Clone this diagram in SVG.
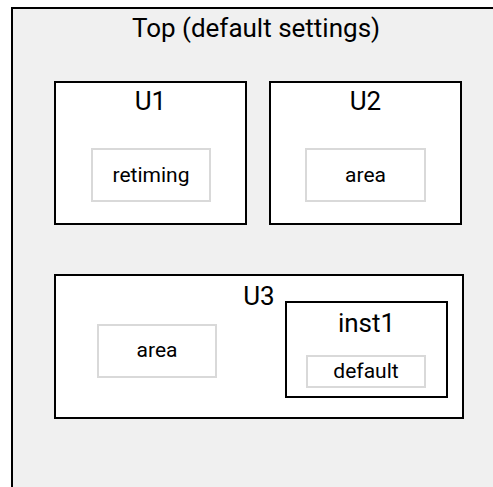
<svg xmlns="http://www.w3.org/2000/svg" width="493" height="487" viewBox="0 0 493 487">
<style>
.outer{fill:#f0f0f0;stroke:#000;stroke-width:2}
.box{fill:#fff;stroke:#000;stroke-width:2}
.leaf{fill:#fff;stroke:#d9d9d9;stroke-width:2}
text{font-family:Roboto,"Liberation Sans",sans-serif;fill:#000;text-anchor:middle}
.t1{font-size:26px}
.t2{font-size:21px}
</style>
<rect width="493" height="487" fill="#fff"/>
<g id="top">
<rect class="outer" x="12" y="8" width="500" height="500"/>
<text class="t1" x="256" y="37">Top (default settings)</text>
</g>
<g id="U1">
<rect class="box" x="55" y="82" width="191" height="142"/>
<text class="t1" x="150.5" y="110">U1</text>
</g>
<g id="U1_retiming">
<rect class="leaf" x="92" y="149" width="118" height="52"/>
<text class="t2" x="151" y="182">retiming</text>
</g>
<g id="U2">
<rect class="box" x="270" y="82" width="191" height="142"/>
<text class="t1" x="365.5" y="110">U2</text>
</g>
<g id="U2_area">
<rect class="leaf" x="306" y="149" width="119" height="52"/>
<text class="t2" x="365.5" y="182">area</text>
</g>
<g id="U3">
<rect class="box" x="55" y="275" width="408" height="143"/>
<text class="t1" x="259" y="305">U3</text>
</g>
<g id="U3_area">
<rect class="leaf" x="98" y="325" width="118" height="52"/>
<text class="t2" x="157" y="357">area</text>
</g>
<g id="inst1">
<rect class="box" x="286" y="302" width="161" height="95"/>
<text class="t1" x="366.5" y="332">inst1</text>
</g>
<g id="inst1_default">
<rect class="leaf" x="307" y="356" width="118" height="31"/>
<text class="t2" x="366" y="378">default</text>
</g>
<g id="connectors"/>
</svg>
